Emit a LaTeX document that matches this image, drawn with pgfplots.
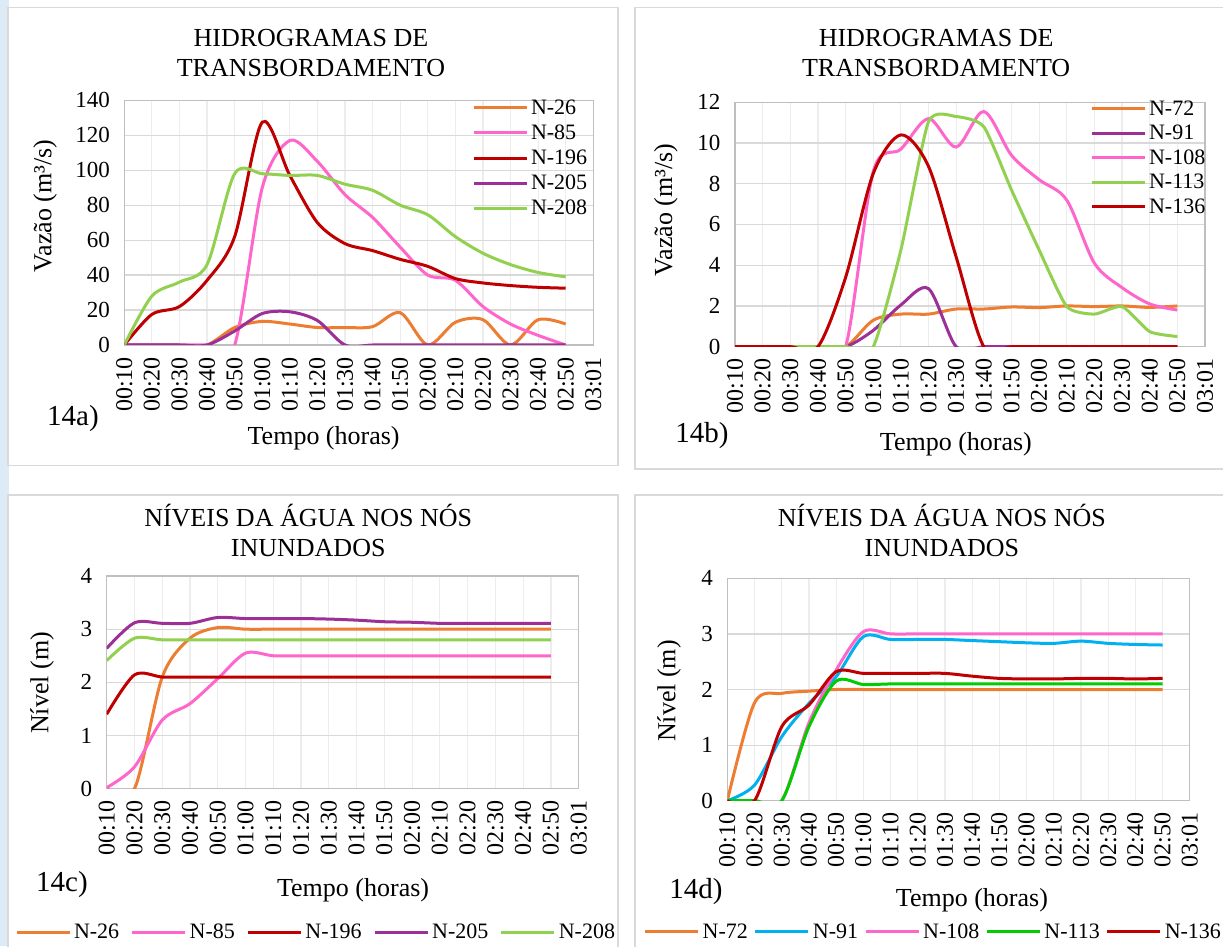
\documentclass[border=0pt]{standalone}
\usepackage{fontspec}
\setmainfont{Liberation Serif}
\usepackage{pgfplots}
\usepackage{pgfplotstable}
\pgfplotsset{compat=1.18}

\definecolor{cOr}{HTML}{ED7D31}
\definecolor{cPk}{HTML}{FF66CC}
\definecolor{cRd}{HTML}{C00000}
\definecolor{cPu}{HTML}{9C3096}
\definecolor{cLg}{HTML}{92D050}
\definecolor{cBl}{HTML}{00B0F0}
\definecolor{cGr}{HTML}{00CC00}
\definecolor{gridH}{HTML}{D9D9D9}
\definecolor{gridV}{HTML}{EDEDED}
\definecolor{axln}{HTML}{BFBFBF}
\definecolor{strip}{HTML}{DDEBF7}
\definecolor{boxc}{HTML}{D9D9D9}

\pgfplotstableread{
x N26 N85 N196 N205 N208
0 0 0 0 0 0
1 0 0 17.5 0 28
2 0 0 22 0 36
3 0 0 37 0 46
4 10 0 62 8 98
5 13.5 90 127.5 18 98
6 12 117 97 19 97
7 10 105 70 14 97
8 10 86 58 0 92
9 10.5 73 54 0 88.5
10 18.5 56 49 0 80
11 0 40 45 0 74.5
12 13 37 38 0 62
13 14.5 22 35.5 0 52.5
14 0 12 34 0 46
15 14.5 5.5 33 0 41.5
16 12 0 32.5 0 39
}\tabA

\pgfplotstableread{
x N72 N91 N108 N113 N136
0 0 0 0 0 0
1 0 0 0 0 0
2 0 0 0 0 0
3 0 0 0 0 0
4 0 0 0 0 3.4
5 1.3 0.8 8.6 0 8.5
6 1.6 2.05 9.7 4.75 10.4
7 1.6 2.85 11.2 11.05 8.85
8 1.85 0 9.8 11.3 4.4
9 1.85 0 11.55 10.8 0
10 1.95 0 9.4 7.7 0
11 1.92 0 8.2 4.75 0
12 2.0 0 7.2 1.97 0
13 1.97 0 4.1 1.6 0
14 2.0 0 2.9 1.97 0
15 1.93 0 2.1 0.74 0
16 2.0 0 1.8 0.5 0
}\tabB

\pgfplotstableread{
x N26 N85 N196 N205 N208
0 0 0.02 1.4 2.64 2.41
1 0 0.41 2.14 3.12 2.83
2 2.1 1.29 2.1 3.11 2.8
3 2.83 1.6 2.1 3.11 2.8
4 3.03 2.07 2.1 3.22 2.8
5 3.0 2.55 2.1 3.2 2.8
6 3.0 2.5 2.1 3.2 2.8
7 3.0 2.5 2.1 3.2 2.8
8 3.0 2.5 2.1 3.19 2.8
9 3.0 2.5 2.1 3.17 2.8
10 3.0 2.5 2.1 3.14 2.8
11 3.0 2.5 2.1 3.13 2.8
12 3.0 2.5 2.1 3.11 2.8
13 3.0 2.5 2.1 3.11 2.8
14 3.0 2.5 2.1 3.11 2.8
15 3.0 2.5 2.1 3.11 2.8
16 3.0 2.5 2.1 3.11 2.8
}\tabC

\pgfplotstableread{
x N72 N91 N108 N113 N136
0 0 0 0 0 0
1 1.76 0.28 0 0 0
2 1.93 1.15 0 0 1.33
3 1.97 1.75 1.4 1.33 1.72
4 2.0 2.23 2.35 2.15 2.32
5 2.0 2.95 3.04 2.09 2.29
6 2.0 2.9 3.0 2.1 2.29
7 2.0 2.9 3.0 2.1 2.29
8 2.0 2.9 3.0 2.1 2.29
9 2.0 2.88 3.0 2.1 2.24
10 2.0 2.86 3.0 2.1 2.2
11 2.0 2.84 3.0 2.1 2.19
12 2.0 2.83 3.0 2.1 2.19
13 2.0 2.87 3.0 2.1 2.2
14 2.0 2.83 3.0 2.1 2.2
15 2.0 2.81 3.0 2.1 2.19
16 2.0 2.8 3.0 2.1 2.2
}\tabD

\pgfplotsset{
  excel/.style={
    scale only axis,
    anchor=south west,
    xmin=0, xmax=17,
    xtick={0,...,17},
    xticklabels={00:10,00:20,00:30,00:40,00:50,01:00,01:10,01:20,01:30,01:40,01:50,02:00,02:10,02:20,02:30,02:40,02:50,03:01},
    xticklabel style={font=\fontsize{24}{24}\selectfont, inner sep=1pt, yshift=-11pt, rotate=90, anchor=east},
    yticklabel style={font=\fontsize{23}{23}\selectfont, xshift=-11pt},
    /pgf/number format/assume math mode=true,
    grid=major,
    x grid style={gridV, line width=1.2pt},
    y grid style={gridH, line width=1.2pt},
    axis line style={axln, line width=1.2pt},
    major tick length=0pt,
    tick style={draw=none},
    title style={anchor=center, align=center, font=\fontsize{26}{30}\selectfont},
    xlabel style={anchor=center, font=\fontsize{26}{30}\selectfont},
    ylabel style={anchor=center, font=\fontsize{26}{30}\selectfont},
    xlabel={Tempo (horas)},
    every axis plot/.append style={smooth, tension=0.5, line width=3pt, no markers},
    legend image code/.code={\draw[#1, line width=3pt] (0pt,0pt) -- (53pt,0pt);},
    legend cell align=left,
  },
  vleg/.style={
    legend style={draw=none, fill=none, inner sep=0pt, row sep=6pt,
      font=\fontsize{22}{22}\selectfont, nodes={inner sep=1.5pt},
      /tikz/every odd column/.append style={column sep=1.5pt}},
  },
  hleg/.style={
    legend columns=5,
    legend style={draw=none, fill=none, inner sep=0pt, anchor=center,
      font=\fontsize{22}{22}\selectfont, nodes={inner sep=1.5pt},
      /tikz/every odd column/.append style={column sep=1.5pt},
      /tikz/every even column/.append style={column sep=10pt}},
  },
}

\begin{document}
\begin{tikzpicture}[x=1pt,y=1pt]
% page background
\fill[white] (0,0) rectangle (1223,946);
\fill[strip] (0,0) rectangle (9,946);
\draw[boxc, line width=1.2pt] (8,938.5) rectangle (618,480.5);
\draw[boxc, line width=1.2pt] (635,938.5) rectangle (1240,477);
\draw[boxc, line width=1.2pt] (8,451) rectangle (618,-10);
\draw[boxc, line width=1.2pt] (635,451) rectangle (1240,-10);
\coordinate (PA) at (124.3,601);
\coordinate (PB) at (735,599.3);
\coordinate (PC) at (106.7,157.3);
\coordinate (PD) at (727.3,145.3);

% ---------- 14a ----------
\begin{axis}[excel, vleg,
  at={(PA)}, width=469pt, height=244.7pt,
  ymin=0, ymax=140, ytick={0,20,...,140},
  title={HIDROGRAMAS DE\\TRANSBORDAMENTO},
  title style={at={(axis description cs:0.398,1.168)}},
  ylabel={Vazão (m³/s)},
  ylabel style={at={(axis description cs:-0.169,0.568)}},
  xlabel style={at={(axis description cs:0.425,-0.380)}},
  legend style={at={(axis description cs:0.741,1.009)}, anchor=north west},
]
\addplot[cOr] table[x=x,y=N26]{\tabA};
\addplot[cPk] table[x=x,y=N85]{\tabA};
\addplot[cRd] table[x=x,y=N196]{\tabA};
\addplot[cPu] table[x=x,y=N205]{\tabA};
\addplot[cLg] table[x=x,y=N208]{\tabA};
\legend{N-26,N-85,N-196,N-205,N-208}
\end{axis}
\node[font=\fontsize{29}{29}\selectfont] at (73,527) {14a)};

% ---------- 14b ----------
\begin{axis}[excel, vleg,
  at={(PB)}, width=470pt, height=244.4pt,
  ymin=0, ymax=12, ytick={0,2,...,12},
  title={HIDROGRAMAS DE\\TRANSBORDAMENTO},
  title style={at={(axis description cs:0.428,1.179)}},
  ylabel={Vazão (m³/s)},
  ylabel style={at={(axis description cs:-0.147,0.559)}},
  xlabel style={at={(axis description cs:0.470,-0.398)}},
  legend style={at={(axis description cs:0.755,1.013)}, anchor=north west, row sep=5.4pt},
]
\addplot[cOr] table[x=x,y=N72]{\tabB};
\addplot[cPu] table[x=x,y=N91]{\tabB};
\addplot[cPk] table[x=x,y=N108]{\tabB};
\addplot[cLg, tension=0.35] table[x=x,y=N113]{\tabB};
\addplot[cRd] table[x=x,y=N136]{\tabB};
\legend{N-72,N-91,N-108,N-113,N-136}
\end{axis}
\node[font=\fontsize{29}{29}\selectfont] at (702,510) {14b)};

% ---------- 14c ----------
\begin{axis}[excel, hleg,
  at={(PC)}, width=472pt, height=212.7pt,
  ymin=0, ymax=4, ytick={0,1,...,4},
  title={NÍVEIS DA ÁGUA NOS NÓS\\INUNDADOS},
  title style={at={(axis description cs:0.427,1.188)}},
  ylabel={Nível (m)},
  ylabel style={at={(axis description cs:-0.137,0.497)}},
  xlabel style={at={(axis description cs:0.522,-0.476)}},
  legend style={at={(axis description cs:0.443,-0.674)}},
]
\addplot[cOr] table[x=x,y=N26]{\tabC};
\addplot[cPk] table[x=x,y=N85]{\tabC};
\addplot[cRd] table[x=x,y=N196]{\tabC};
\addplot[cPu] table[x=x,y=N205]{\tabC};
\addplot[cLg] table[x=x,y=N208]{\tabC};
\legend{N-26,N-85,N-196,N-205,N-208}
\end{axis}
\node[font=\fontsize{29}{29}\selectfont] at (62,61) {14c)};

% ---------- 14d ----------
\begin{axis}[excel, hleg,
  at={(PD)}, width=462.5pt, height=222.4pt,
  ymin=0, ymax=4, ytick={0,1,...,4},
  title={NÍVEIS DA ÁGUA NOS NÓS\\INUNDADOS},
  title style={at={(axis description cs:0.464,1.186)}},
  ylabel={Nível (m)},
  ylabel style={at={(axis description cs:-0.126,0.493)}},
  xlabel style={at={(axis description cs:0.529,-0.446)}},
  legend style={at={(axis description cs:0.445,-0.590)},
    /tikz/every even column/.append style={column sep=4.5pt}},
]
\addplot[cOr] table[x=x,y=N72]{\tabD};
\addplot[cBl] table[x=x,y=N91]{\tabD};
\addplot[cPk] table[x=x,y=N108]{\tabD};
\addplot[cGr] table[x=x,y=N113]{\tabD};
\addplot[cRd] table[x=x,y=N136]{\tabD};
\legend{N-72,N-91,N-108,N-113,N-136}
\end{axis}
\node[font=\fontsize{29}{29}\selectfont] at (696,54) {14d)};

\pgfresetboundingbox
\useasboundingbox (0,0) rectangle (1223,946);
\end{tikzpicture}
\end{document}
